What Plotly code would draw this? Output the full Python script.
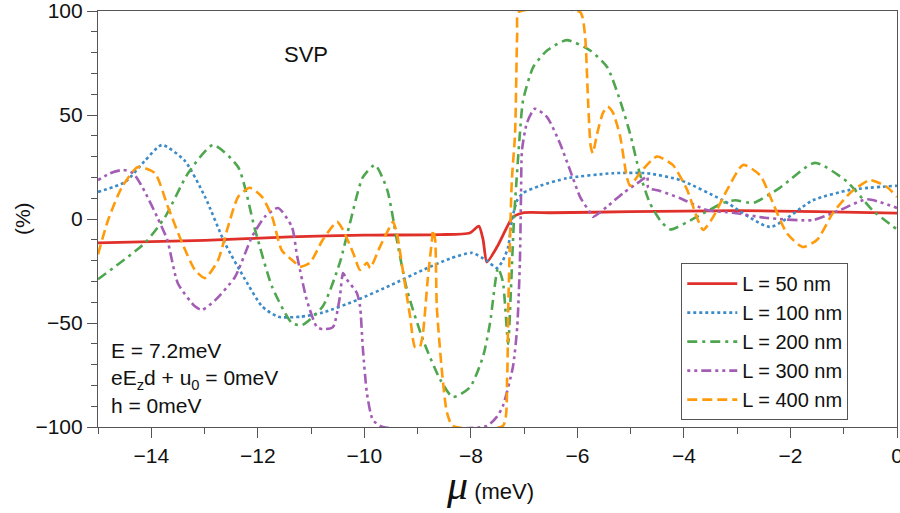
import plotly.graph_objects as go

# Chemical potential (meV) and polarization (%) for each junction length L
mu_50 = [-15, -13, -11.4, -10, -8.58, -8.02, -7.85, -7.77, -7.70, -7.51, -7.32, -7.21, -7.02,
         -6.5, -5, -3, -1.5, 0]
p_50 = [-11.5, -10.3, -8.6, -7.8, -7.5, -6.7, -3.4, -10, -20.7, -13.5, -3.8, 1, 3,
        3, 3.5, 4, 3.5, 2.8]

mu_100 = [-15, -14.49, -14.12, -13.8, -13.37, -12.99, -12.62, -12.24, -11.92, -11.62, -11.2,
          -10.78, -10.14, -9.52, -8.9, -8.39, -7.98, -7.7, -7.51, -7.4, -7.3, -7.23, -7.13,
          -7.02, -6.7, -6.2, -5.33, -4.69, -4.07, -3.27, -2.38, -1.58, -0.88, 0]
p_100 = [13, 17.8, 28, 35.6, 28, 10.6, -11.5, -29, -42, -47, -47,
         -45, -39, -32, -24.5, -19, -16.3, -20, -23.6, -20, -13.5, -0.5, 9,
         12.5, 16, 19.6, 22, 22, 18.7, 9, -3.8, 9, 14, 16]

mu_200 = [-15, -14.12, -13.74, -13.31, -12.84, -12.37, -12.05, -11.73, -11.36, -11.17, -10.78,
          -10.46, -10.27, -10.03, -9.8, -9.57, -9.39, -9.2, -8.9, -8.58, -8.34, -8.02, -7.77,
          -7.64, -7.49, -7.4, -7.3, -7.25, -7.19, -7.08, -7.02, -6.83, -6.57, -6.2, -5.76,
          -5.44, -5.2, -5.01, -4.83, -4.64, -4.45, -4.26, -3.76, -3.27, -3.04, -2.7, -2.2,
          -1.54, -0.94, -0.45, 0]
p_200 = [-29, -11.5, 1, 22, 35.6, 25, -5.3, -32.7, -50, -51, -42,
         -21, -2, 20, 26, 14, -10, -34, -58, -77, -85.6, -81, -66,
         -50, -23.6, -30, -60, -35, 0, 41, 57, 73, 81, 86, 81,
         73, 57, 41, 22, 7.7, -0.5, -5, 1, 7.7, 9, 7.7, 15,
         27, 18, 4, -5]

mu_300 = [-15, -14.77, -14.53, -14.34, -14.16, -13.89, -13.7, -13.5, -13.18, -13.05, -12.8,
          -12.43, -12.11, -11.87, -11.62, -11.36, -11.26, -11.08, -10.89, -10.78, -10.59,
          -10.46, -10.4, -10.33, -10.14, -10.08, -10.03, -9.95, -9.84, -9.65, -7.7, -7.51,
          -7.4, -7.21, -7.13, -7.08, -7.06, -7.04, -6.95, -6.8, -6.57, -6.33, -6.14, -5.95,
          -5.76, -5.71, -5.45, -5.14, -4.83, -4.69, -4.67, -4.45, -4.07, -3.57, -3.08, -2.44,
          -1.58, -1.07, -0.56, 0]
p_300 = [18.7, 22, 23.6, 22, 15, 1, -10, -31, -42, -43.7, -39,
         -28, -8.6, 1, 5.3, -3.8, -18, -39, -52, -53, -52,
         -37.5, -26, -29, -35.6, -42, -61.5, -84, -96.6, -100, -99.5, -95,
         -90, -71, -52, -21, 9, 33, 46, 53, 49, 36.5, 23.6, 10.6,
         3, 1, 5.8, 12.5, 18, 20.5, 15, 13.5, 10, 4.3, 3, 0.5,
         -0.5, 4.3, 9.5, 5.3]

mu_400 = [-15, -14.81, -14.55, -14.25, -13.93, -13.69, -13.42, -13.18, -12.99, -12.75, -12.56,
          -12.37, -12.15, -11.92, -11.73, -11.55, -11.3, -11.21, -11.02, -10.78, -10.51, -10.4,
          -10.21, -10.08, -9.95, -9.89, -9.71, -9.52, -9.46, -9.39, -9.27, -9.14, -9.05, -8.96,
          -8.9, -8.81, -8.73, -8.71, -8.67, -8.64, -8.54, -8.45, -8.34, -7.4, -7.32, -7.3,
          -7.27, -7.23, -7.17, -7.13, -7.1, -5.95, -5.86, -5.8, -5.75, -5.71, -5.63, -5.52,
          -5.43, -5.33, -5.2, -5.07, -5.01, -4.83, -4.51, -4.21, -3.94, -3.76, -3.64, -3.45,
          -3.19, -2.89, -2.57, -2.33, -2.07, -1.77, -1.5, -1.2, -0.88, -0.51, -0.19, 0]
p_400 = [-17, -0.5, 15.4, 25, 22, 6, -11.5, -24.5, -28.4, -20, -3.8,
         10.6, 15, 10.6, 1, -15, -21, -23, -21, -10, -1.4, -5.3,
         -16.3, -24.5, -21, -23.6, -13.5, -3.8, -1.4, -6.7, -26, -47, -61.5, -61.5,
         -55, -29, -10, -5.3, -10, -42, -74, -93, -99.5, -99.5, -77, -45,
         -13.5, 19, 41, 89, 99.5, 99.5, 89, 57, 35, 31.7, 41, 51,
         54, 51, 40, 20, 16, 22, 30, 26, 14, 1, -5.3, 1,
         14, 26, 21, 7.7, -6.7, -13.5, -10, 3, 12.5, 18.7, 15.4, 10.6]

series = [
    ("L = 50 nm", mu_50, p_50, "#e0302a", "solid", 2.8),
    ("L = 100 nm", mu_100, p_100, "#3b8bc9", "dot", 2.6),
    ("L = 200 nm", mu_200, p_200, "#4ea74e", "10px,5px,3px,5px", 2.6),
    ("L = 300 nm", mu_300, p_300, "#a35db5", "3px,4px,3px,4px,10px,4px", 2.6),
    ("L = 400 nm", mu_400, p_400, "#ff9a0a", "10px,5px", 2.6),
]

FONT = "Liberation Sans, Arial, Helvetica, sans-serif"
INK = "#111111"

fig = go.Figure()
for name, x, y, color, dash, w in series:
    fig.add_trace(go.Scatter(
        x=x, y=y, name=name, mode="lines",
        line=dict(color=color, dash=dash, width=w, shape="spline", smoothing=0.6),
    ))

axis_common = dict(
    showline=True, linecolor="#555555", linewidth=1.2, mirror=True,
    ticks="outside", ticklen=10, tickcolor="#555555", tickwidth=1.2,
    showgrid=False, zeroline=False, automargin=False,
    ticklabeloverflow="allow",
    tickfont=dict(family=FONT, size=21, color=INK),
)

fig.update_xaxes(
    range=[-15, 0], tickvals=[-14, -12, -10, -8, -6, -4, -2, 0],
    minor=dict(ticks="outside", ticklen=6, tickcolor="#555555", dtick=1, tick0=0),
    **axis_common,
)
fig.update_yaxes(
    range=[-100, 100], tickvals=[-100, -50, 0, 50, 100],
    minor=dict(ticks="outside", ticklen=6, tickcolor="#555555", dtick=10, tick0=0),
    **axis_common,
)

fig.add_annotation(x=-11.1, y=79, xref="x", yref="y", text="SVP", showarrow=False,
                   font=dict(family=FONT, size=22, color=INK))
fig.add_annotation(
    x=0.014, y=0.02, xref="paper", yref="paper", xanchor="left", yanchor="bottom",
    align="left", showarrow=False,
    text="E = 7.2meV<br>eE<sub>z</sub>d + u<sub>0</sub> = 0meV<br>h = 0meV",
    font=dict(family=FONT, size=21, color=INK),
)
fig.add_annotation(
    x=0.49, y=-0.14, xref="paper", yref="paper", xanchor="center", yanchor="middle",
    showarrow=False,
    text=("<span style='font-family:Liberation Serif;font-style:italic;font-size:42px'>μ</span>"
          "<span style='font-size:22px'> (meV)</span>"),
    font=dict(family=FONT, size=22, color=INK),
)
fig.add_annotation(
    x=-0.095, y=0.5, xref="paper", yref="paper", xanchor="center", yanchor="middle",
    textangle=-90, showarrow=False,
    text="(%)", font=dict(family=FONT, size=21, color=INK),
)

fig.update_layout(
    width=900, height=513,
    margin=dict(l=98, r=3, t=11, b=86),
    paper_bgcolor="white", plot_bgcolor="white",
    showlegend=True,
    legend=dict(
        x=0.73, y=0.394, xanchor="left", yanchor="top",
        bgcolor="white", bordercolor="#555555", borderwidth=1,
        font=dict(family=FONT, size=20, color=INK),
        tracegroupgap=0, itemwidth=50,
    ),
)

fig.write_html("out.html")
